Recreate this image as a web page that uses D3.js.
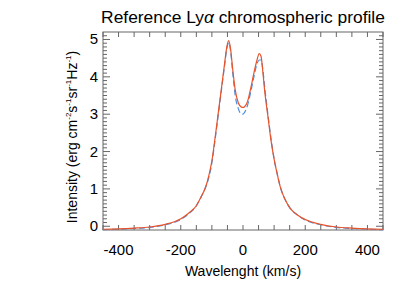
<!DOCTYPE html>
<html>
<head>
<meta charset="utf-8">
<script src="https://cdn.jsdelivr.net/npm/d3@7"></script>
<style>
  body { margin: 0; background: #fff; }
  svg { font-family: "Liberation Sans", Arial, sans-serif; }
</style>
</head>
<body>
<svg width="415" height="297"></svg>
<script>
// wavelength grid (km/s)
var wavelength = [-450,-400,-350,-300,-250,-200,-175,-150,-135,-120,-110,-100,-90,-80,-70,-60,-52,-46,-40,-33,-25,-15,-5,0,5,15,25,35,45,52,58,63,70,80,90,100,110,120,135,150,175,200,250,300,350,400,450];
// reference profile (solid)
var intensityRef = [-0.08,-0.07,-0.05,-0.02,0.05,0.2,0.35,0.55,0.78,1.05,1.35,1.75,2.35,3.0,3.65,4.3,4.8,4.97,4.75,4.2,3.65,3.3,3.19,3.18,3.2,3.35,3.7,4.1,4.45,4.62,4.55,4.2,3.6,2.95,2.3,1.8,1.4,1.05,0.72,0.5,0.3,0.18,0.05,-0.02,-0.05,-0.07,-0.08];
// comparison profile (dashed)
var intensityAlt = [-0.09,-0.08,-0.06,-0.03,0.04,0.18,0.33,0.55,0.78,1.05,1.3,1.7,2.3,2.95,3.6,4.25,4.75,4.92,4.7,4.1,3.5,3.15,3.0,3.0,3.05,3.25,3.6,4.0,4.35,4.45,4.45,4.25,3.7,3.0,2.35,1.8,1.4,1.05,0.72,0.5,0.3,0.17,0.04,-0.03,-0.06,-0.08,-0.09];

var xTicks = [-400, -200, 0, 200, 400];
var yTicks = [0, 1, 2, 3, 4, 5];

var svg = d3.select("svg");
var plotL = 103, plotR = 383, plotT = 32, plotB = 230;

var x = d3.scaleLinear().domain([-450, 450]).range([plotL, plotR]);
var y = d3.scaleLinear().domain([-0.1, 5.2]).range([plotB, plotT]);

var axisColor = "#666";

// frame
svg.append("rect")
  .attr("x", plotL).attr("y", plotT)
  .attr("width", plotR - plotL).attr("height", plotB - plotT)
  .attr("fill", "none").attr("stroke", axisColor).attr("stroke-width", 1);

// x ticks every 50, bottom and top
var xMinor = d3.range(-450, 451, 50);
svg.append("g").selectAll("line")
  .data(xMinor).enter().append("line")
  .attr("x1", d => x(d)).attr("x2", d => x(d))
  .attr("y1", plotB).attr("y2", plotB - 5)
  .attr("stroke", axisColor);
svg.append("g").selectAll("line")
  .data(xMinor).enter().append("line")
  .attr("x1", d => x(d)).attr("x2", d => x(d))
  .attr("y1", plotT).attr("y2", plotT + 5)
  .attr("stroke", axisColor);

// y ticks: minor every 0.1, major every 1
var yMinor = d3.range(0, 52).map(d => d / 10);
function yLen(d) { return Math.abs(d - Math.round(d)) < 1e-6 ? 7 : 4; }
svg.append("g").selectAll("line")
  .data(yMinor).enter().append("line")
  .attr("x1", plotL).attr("x2", d => plotL + yLen(d))
  .attr("y1", d => y(d)).attr("y2", d => y(d))
  .attr("stroke", axisColor);
svg.append("g").selectAll("line")
  .data(yMinor).enter().append("line")
  .attr("x1", plotR).attr("x2", d => plotR - yLen(d))
  .attr("y1", d => y(d)).attr("y2", d => y(d))
  .attr("stroke", axisColor);

// tick labels
svg.append("g").selectAll("text")
  .data(xTicks).enter().append("text")
  .attr("x", d => x(d)).attr("y", 255)
  .attr("text-anchor", "middle")
  .attr("font-size", 15)
  .text(d => d);
svg.append("g").selectAll("text")
  .data(yTicks).enter().append("text")
  .attr("x", 98).attr("y", d => y(d) + 5)
  .attr("text-anchor", "end")
  .attr("font-size", 15)
  .text(d => d);

// lines
var line = d3.line().curve(d3.curveMonotoneX);
var ptsRef = wavelength.map((w, i) => [x(w), y(intensityRef[i])]);
var ptsAlt = wavelength.map((w, i) => [x(w), y(intensityAlt[i])]);

svg.append("path")
  .attr("d", line(ptsAlt))
  .attr("fill", "none")
  .attr("stroke", "#4a8ee0")
  .attr("stroke-width", 1.2)
  .attr("stroke-dasharray", "6,3");
svg.append("path")
  .attr("d", line(ptsRef))
  .attr("fill", "none")
  .attr("stroke", "#e8532a")
  .attr("stroke-width", 1.2);

// title
svg.append("text")
  .attr("x", 243).attr("y", 23)
  .attr("text-anchor", "middle")
  .attr("font-size", 17.4)
  .html("Reference Ly<tspan font-style='italic'>α</tspan> chromospheric profile");

// x label
svg.append("text")
  .attr("x", 243).attr("y", 276)
  .attr("text-anchor", "middle")
  .attr("font-size", 14)
  .text("Wavelenght (km/s)");

// y label
var yl = svg.append("text")
  .attr("transform", "translate(77,137) rotate(-90)")
  .attr("text-anchor", "middle")
  .attr("font-size", 14);
yl.append("tspan").text("Intensity (erg cm");
yl.append("tspan").attr("dy", -6).attr("font-size", 8).text("-2");
yl.append("tspan").attr("dy", 6).text("s");
yl.append("tspan").attr("dy", -6).attr("font-size", 8).text("-1");
yl.append("tspan").attr("dy", 6).text("sr");
yl.append("tspan").attr("dy", -6).attr("font-size", 8).text("-1");
yl.append("tspan").attr("dy", 6).text("Hz");
yl.append("tspan").attr("dy", -6).attr("font-size", 8).text("-1");
yl.append("tspan").attr("dy", 6).text(")");
</script>
</body>
</html>
